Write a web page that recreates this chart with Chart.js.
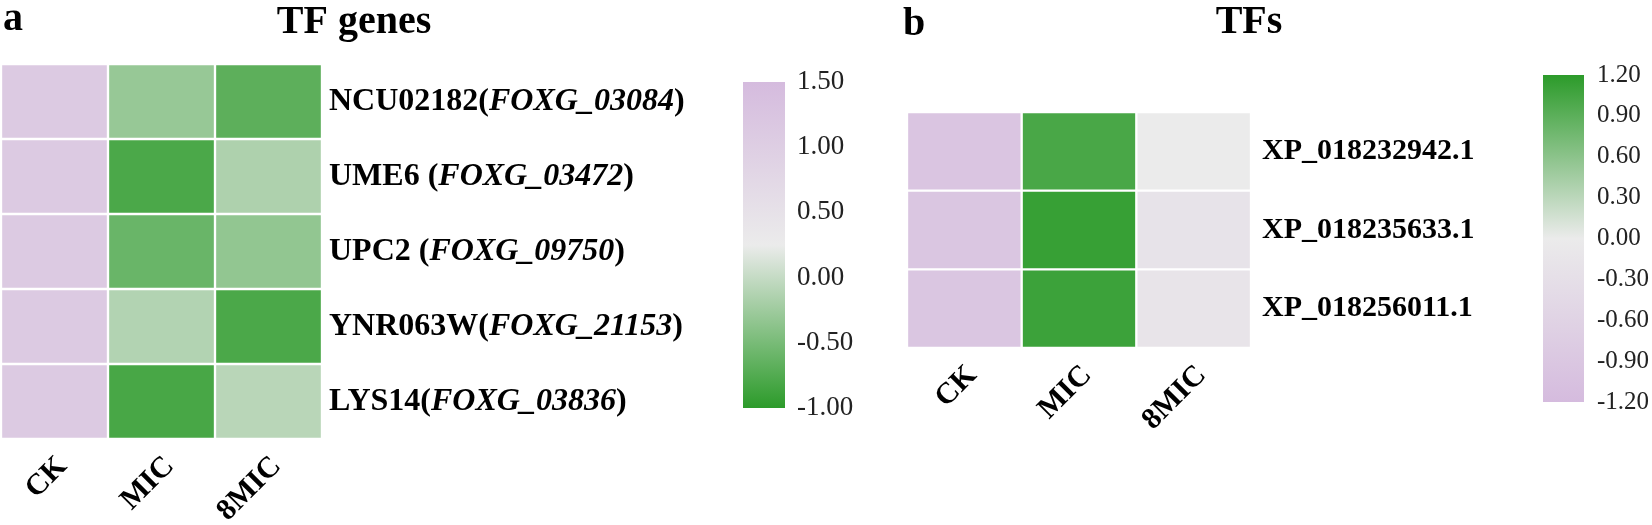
<!DOCTYPE html>
<html>
<head>
<meta charset="utf-8">
<title>TF genes / TFs heatmaps</title>
<script src="https://cdn.jsdelivr.net/npm/chart.js@4.4.1/dist/chart.umd.min.js"></script>
<style>
  html, body { margin: 0; padding: 0; background: #fff; }
  #wrap { position: relative; width: 1652px; height: 525px; overflow: hidden; background: #fff; }
  #wrap canvas { position: absolute; top: 0; }
</style>
</head>
<body>
<div id="wrap">
  <canvas id="heatA" width="720" height="525" style="left:0px"></canvas>
  <canvas id="barA"  width="200" height="525" style="left:700px"></canvas>
  <canvas id="heatB" width="660" height="525" style="left:880px"></canvas>
  <canvas id="barB"  width="152" height="525" style="left:1500px"></canvas>
</div>
<script>
// ── Data ──────────────────────────────────────────────────────────────────────
const conditions = ['CK', 'MIC', '8MIC'];

// panel a — TF genes (row-scaled expression)
const geneNamesA = ['NCU02182', 'UME6 ', 'UPC2 ', 'YNR063W', 'LYS14'];
const geneIdsA   = ['FOXG_03084', 'FOXG_03472', 'FOXG_09750', 'FOXG_21153', 'FOXG_03836'];
const valuesA = [
    [1.10, -0.30, -0.68],
    [1.10, -0.80, -0.15],
    [1.10, -0.60, -0.33],
    [1.10, -0.12, -0.80],
    [1.10, -0.82, -0.08],
];
const ticksA = [1.50, 1.00, 0.50, 0.00, -0.50, -1.00];

// panel b — TFs
const tfIdsB = ['XP_018232942.1', 'XP_018235633.1', 'XP_018256011.1'];
const valuesB = [
    [-0.95, 1.02,  0.00],
    [-0.93, 1.13, -0.20],
    [-0.93, 1.10, -0.18],
];
const ticksB = [1.20, 0.90, 0.60, 0.30, 0.00, -0.30, -0.60, -0.90, -1.20];

// ── Colours ───────────────────────────────────────────────────────────────────
const GREEN  = [44, 155, 42];
const GRAY   = [235, 235, 235];
const PURPLE = [213, 187, 222];
const SERIF  = "'Liberation Serif', 'Times New Roman', serif";

function rgb(c) { return `rgb(${c.map(Math.round).join(',')})`; }
function mix(a, b, t) { return a.map((v, i) => v + (b[i] - v) * t); }

// three-stop linear palette: low -> mid -> high
function palette(min, max, low, high) {
    const mid = (min + max) / 2;
    return (v) => {
        if (v <= mid) return rgb(mix(low, GRAY, (v - min) / (mid - min)));
        return rgb(mix(GRAY, high, (v - mid) / (max - mid)));
    };
}
const colourA = palette(-1.0, 1.5, GREEN, PURPLE);
const colourB = palette(-1.2, 1.2, PURPLE, GREEN);

// ── Plugins ───────────────────────────────────────────────────────────────────
const rowLabels = {
    id: 'rowLabels',
    afterDraw(chart, args, opts) {
        const { ctx, chartArea, scales: { y } } = chart;
        ctx.save();
        ctx.fillStyle = '#000';
        ctx.textBaseline = 'middle';
        ctx.textAlign = 'left';
        opts.names.forEach((name, i) => {
            const py = y.getPixelForValue(i + 0.5);
            let px = chartArea.right + opts.gap;
            ctx.font = `bold ${opts.size}px ${SERIF}`;
            ctx.fillText(name, px, py);
            px += ctx.measureText(name).width;
            if (!opts.ids) return;
            ctx.fillText('(', px, py);
            px += ctx.measureText('(').width;
            ctx.font = `italic bold ${opts.size}px ${SERIF}`;
            ctx.fillText(opts.ids[i], px, py);
            px += ctx.measureText(opts.ids[i]).width;
            ctx.font = `bold ${opts.size}px ${SERIF}`;
            ctx.fillText(')', px, py);
        });
        ctx.restore();
    },
};

const panelText = {
    id: 'panelText',
    afterDraw(chart, args, opts) {
        const { ctx } = chart;
        ctx.save();
        ctx.fillStyle = '#000';
        ctx.textBaseline = 'alphabetic';
        ctx.textAlign = 'left';
        ctx.font = `bold 40px ${SERIF}`;
        ctx.fillText(opts.letter, opts.letterX, opts.letterY);
        ctx.textAlign = 'center';
        ctx.font = `bold ${opts.titleSize}px ${SERIF}`;
        ctx.fillText(opts.title, opts.titleX, opts.titleY);
        ctx.restore();
    },
};

// ── Heatmap (floating bars, one dataset per row) ──────────────────────────────
function heatmap(id, values, colourFn, pad, axisHeight, labelOpts, textOpts) {
    const rows = values.length;
    return new Chart(document.getElementById(id), {
        type: 'bar',
        data: {
            labels: conditions,
            datasets: values.map((row, r) => ({
                data: row.map(() => [r, r + 1]),
                backgroundColor: row.map(colourFn),
                borderColor: '#ffffff',
                borderWidth: 1.5,
                borderSkipped: false,
                barPercentage: 1,
                categoryPercentage: 1,
                grouped: false,
            })),
        },
        options: {
            responsive: false,
            animation: false,
            layout: { padding: pad },
            scales: {
                x: {
                    grid: { display: false, drawTicks: false },
                    border: { display: false },
                    ticks: {
                        color: '#000',
                        font: { family: SERIF, size: 30, weight: 'bold' },
                        minRotation: 45,
                        maxRotation: 45,
                        padding: 10,
                        labelOffset: 8,
                    },
                    afterFit: (s) => { s.height = axisHeight; },
                },
                y: { display: false, min: 0, max: rows, reverse: true },
            },
            plugins: {
                legend: { display: false },
                tooltip: { enabled: false },
                rowLabels: labelOpts,
                panelText: textOpts,
            },
        },
        plugins: [rowLabels, panelText],
    });
}

// ── Colour bar (single floating bar filled with a gradient) ───────────────────
function colourBar(id, ticks, low, high, pad, axisWidth, fontSize, tickPad) {
    const min = Math.min(...ticks);
    const max = Math.max(...ticks);
    return new Chart(document.getElementById(id), {
        type: 'bar',
        data: {
            labels: [''],
            datasets: [{
                data: [[min, max]],
                backgroundColor: (context) => {
                    const { chart: c } = context;
                    if (!c.chartArea) return rgb(GRAY);
                    const g = c.ctx.createLinearGradient(0, c.chartArea.bottom, 0, c.chartArea.top);
                    g.addColorStop(0, rgb(low));
                    g.addColorStop(0.5, rgb(GRAY));
                    g.addColorStop(1, rgb(high));
                    return g;
                },
                borderWidth: 0,
                barPercentage: 1,
                categoryPercentage: 1,
            }],
        },
        options: {
            responsive: false,
            animation: false,
            layout: { padding: pad },
            scales: {
                x: { display: false },
                y: {
                    position: 'right',
                    min, max,
                    grid: { display: false, drawTicks: false },
                    border: { display: false },
                    afterBuildTicks: (s) => { s.ticks = ticks.map((v) => ({ value: v })); },
                    afterFit: (s) => { s.width = axisWidth; },
                    ticks: {
                        color: '#222',
                        padding: tickPad,
                        font: { family: SERIF, size: fontSize },
                        callback: (v) => Number(v).toFixed(2),
                    },
                },
            },
            plugins: { legend: { display: false }, tooltip: { enabled: false } },
        },
    });
}

heatmap('heatA', valuesA, colourA,
    { left: 1, top: 64, right: 398, bottom: 0 }, 86,
    { names: geneNamesA, ids: geneIdsA, size: 32, gap: 7 },
    { letter: 'a', letterX: 3, letterY: 30, title: 'TF genes', titleSize: 40, titleX: 354, titleY: 33 });

colourBar('barA', ticksA, GREEN, PURPLE, { left: 43, top: 82, right: 0, bottom: 117 }, 115, 27, 12);

heatmap('heatB', valuesB, colourB,
    { left: 27, top: 112, right: 289, bottom: 0 }, 177,
    { names: tfIdsB, ids: null, size: 30, gap: 11 },
    { letter: 'b', letterX: 23, letterY: 35, title: 'TFs', titleSize: 40, titleX: 369, titleY: 33 });

colourBar('barB', ticksB, PURPLE, GREEN, { left: 43, top: 75, right: 0, bottom: 123 }, 68, 25, 13);
</script>
</body>
</html>
